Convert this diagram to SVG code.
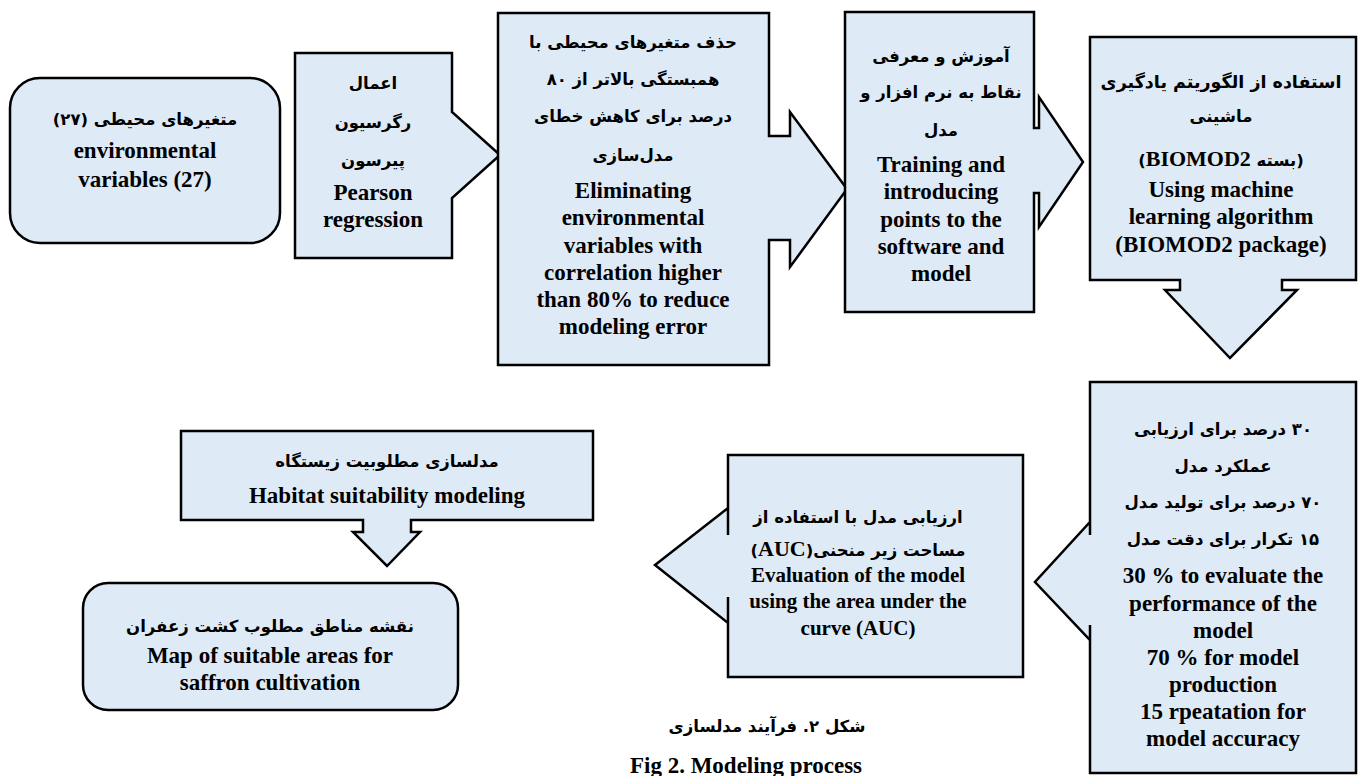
<svg xmlns="http://www.w3.org/2000/svg" width="1358" height="776" viewBox="0 0 1358 776">
<style>
.box{fill:#DEEAF6;stroke:#000;stroke-width:2.5;stroke-linejoin:miter}
.en{font-family:"Liberation Serif",serif;font-weight:700;font-size:23px;fill:#000;text-anchor:middle}
.ens{font-size:21px}
.fa{font-family:"DejaVu Sans",sans-serif;font-weight:bold;font-size:16.5px;fill:#000;text-anchor:middle;direction:rtl;unicode-bidi:embed}
.inl{font-family:"Liberation Serif",serif;font-weight:700;font-size:22px}
</style>
<rect width="1358" height="776" fill="#fff"/>
<g id="connectors"/>
<g id="n1">
<rect class="box" x="10" y="78" width="270" height="165" rx="30" ry="30"/>
<text class="fa" x="145" y="125">متغیرهای محیطی (۲۷)</text>
<text class="en" x="145" y="158">environmental</text>
<text class="en" x="145" y="187">variables (27)</text>
</g>
<g id="n2">
<path class="box" d="M295,53 H452 V112 L500,155 L452,198 V258 H295 Z"/>
<text class="fa" x="373" y="89">اعمال</text>
<text class="fa" x="373" y="128">رگرسیون</text>
<text class="fa" x="373" y="166">پیرسون</text>
<text class="en" x="373" y="200">Pearson</text>
<text class="en" x="373" y="227">regression</text>
</g>
<g id="n3">
<path class="box" d="M498,13 H769 V136 H790 V112 L847,189 L790,267 V240 H769 V365 H498 Z"/>
<text class="fa" x="633" y="48">حذف متغیرهای محیطی با</text>
<text class="fa" x="633" y="85">همبستگی بالاتر از ۸۰</text>
<text class="fa" x="633" y="122">درصد برای کاهش خطای</text>
<text class="fa" x="633" y="161">مدل‌سازی</text>
<text class="en" x="633" y="198">Eliminating</text>
<text class="en" x="633" y="225">environmental</text>
<text class="en" x="633" y="253">variables with</text>
<text class="en" x="633" y="280">correlation higher</text>
<text class="en" x="633" y="307">than 80% to reduce</text>
<text class="en" x="633" y="334">modeling error</text>
</g>
<g id="n4">
<path class="box" d="M845,12 H1034 V128 H1039 V97 L1083,162 L1039,227 V193 H1034 V312 H845 Z"/>
<text class="fa" x="941" y="62">آموزش و معرفی</text>
<text class="fa" x="941" y="98">نقاط به نرم افزار و</text>
<text class="fa" x="941" y="136">مدل</text>
<text class="en" x="941" y="172">Training and</text>
<text class="en" x="941" y="199">introducing</text>
<text class="en" x="941" y="227">points to the</text>
<text class="en" x="941" y="254">software and</text>
<text class="en" x="941" y="281">model</text>
</g>
<g id="n5">
<path class="box" d="M1090,37 H1356 V280 H1282 V290 H1297 L1230,358 L1165,290 H1180 V280 H1090 Z"/>
<text class="fa" x="1221" y="88" style="font-size:17.5px">استفاده از الگوریتم یادگیری</text>
<text class="fa" x="1221" y="122">ماشینی</text>
<text class="fa" x="1221" y="166">(بسته <tspan class="inl">BIOMOD2</tspan>)</text>
<text class="en" x="1221" y="197">Using machine</text>
<text class="en" x="1221" y="224">learning algorithm</text>
<text class="en" x="1221" y="252">(BIOMOD2 package)</text>
</g>
<g id="n6">
<path class="box" d="M1090,382 H1356 V773 H1090 V625 L1090,640 L1035,582 L1090,522 L1090,535 Z"/>
<text class="fa" x="1223" y="435">۳۰ درصد برای ارزیابی</text>
<text class="fa" x="1223" y="472">عملکرد مدل</text>
<text class="fa" x="1223" y="508">۷۰ درصد برای تولید مدل</text>
<text class="fa" x="1223" y="545">۱۵ تکرار برای دقت مدل</text>
<text class="en" x="1223" y="583">30 % to evaluate the</text>
<text class="en" x="1223" y="611">performance of the</text>
<text class="en" x="1223" y="638">model</text>
<text class="en" x="1223" y="665">70 % for model</text>
<text class="en" x="1223" y="692">production</text>
<text class="en" x="1223" y="719">15 rpeatation for</text>
<text class="en" x="1223" y="746">model accuracy</text>
</g>
<g id="n7">
<path class="box" d="M728,455 H1023 V677 H728 V597 L728,623 L655,565 L728,508 L728,535 Z"/>
<text class="fa" x="858" y="523">ارزیابی مدل با استفاده از</text>
<text class="fa" x="858" y="556">مساحت زیر منحنی(<tspan class="inl">AUC</tspan>)</text>
<text class="en ens" x="858" y="582">Evaluation of the model</text>
<text class="en ens" x="858" y="608">using the area under the</text>
<text class="en ens" x="858" y="635">curve (AUC)</text>
</g>
<g id="n8">
<path class="box" d="M181,431 H593 V520 H411 V532 H420 L387,566 L353,532 H363 V520 H181 Z"/>
<text class="fa" x="387" y="467">مدلسازی مطلوبیت زیستگاه</text>
<text class="en" x="387" y="503">Habitat suitability modeling</text>
</g>
<g id="n9">
<rect class="box" x="83" y="583" width="375" height="127" rx="25" ry="25"/>
<text class="fa" x="270" y="632">نقشه مناطق مطلوب کشت زعفران</text>
<text class="en" x="270" y="663">Map of suitable areas for</text>
<text class="en" x="270" y="690">saffron cultivation</text>
</g>
<g id="caption">
<text class="fa" x="767" y="732">شکل ۲. فرآیند مدلسازی</text>
<text class="en" x="746" y="773">Fig 2. Modeling process</text>
</g>
</svg>
